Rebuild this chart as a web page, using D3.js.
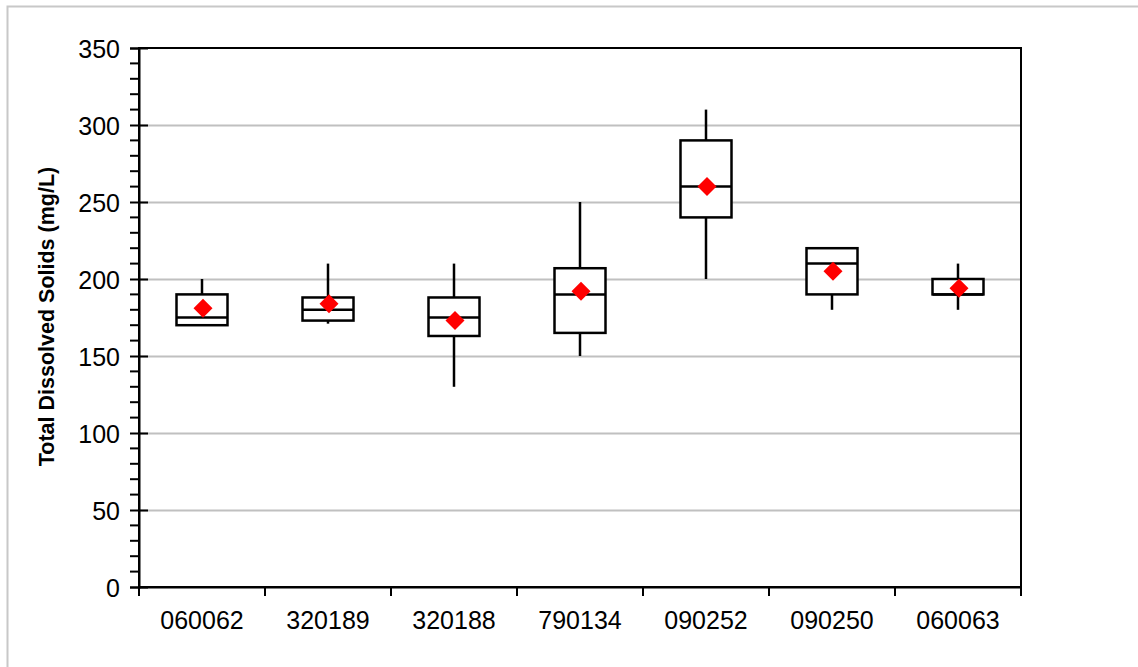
<!DOCTYPE html>
<html>
<head>
<meta charset="utf-8">
<script src="https://cdn.jsdelivr.net/npm/d3@7"></script>
<style>
  html, body { margin: 0; padding: 0; background: #fff; }
  svg { display: block; }
  text { font-family: "Liberation Sans", Arial, sans-serif; fill: #000; }
</style>
</head>
<body>
<svg id="chart" width="1138" height="667"></svg>
<script>
// ---- data ----
const categories = ["060062", "320189", "320188", "790134", "090252", "090250", "060063"];
const whiskerLow = [170, 171, 130, 150, 200, 180, 180];
const q1         = [170, 173, 163, 165, 240, 190, 190];
const median     = [175, 180, 175, 190, 260, 210, 190];
const q3         = [190, 188, 188, 207, 290, 220, 200];
const whiskerHigh= [200, 210, 210, 250, 310, 220, 210];
const means      = [181, 184, 173, 192, 260, 205, 194];
const yTicks     = [0, 50, 100, 150, 200, 250, 300, 350];
const yLabel     = "Total Dissolved Solids (mg/L)";

const rows = categories.map((c, i) => ({
  cat: c, lo: whiskerLow[i], q1: q1[i], med: median[i], q3: q3[i], hi: whiskerHigh[i], mean: means[i]
}));

const svg = d3.select("#chart");
const W = 1138, H = 667;
const m = { left: 139, right: 1021, top: 48, bottom: 587 };

// outer frame
svg.append("rect").attr("x", 7.5).attr("y", 6.5).attr("width", W + 10).attr("height", H + 10)
  .attr("fill", "#fff").attr("stroke", "#c8c8c8").attr("stroke-width", 2);

const x = d3.scaleBand().domain(categories).range([m.left, m.right]).paddingInner(0).paddingOuter(0);
const y = d3.scaleLinear().domain([0, 350]).range([m.bottom, m.top]);

// gridlines
svg.append("g").selectAll("line").data(yTicks.filter(t => t > 0 && t < 350)).join("line")
  .attr("x1", m.left).attr("x2", m.right)
  .attr("y1", d => Math.round(y(d)) + 0.5).attr("y2", d => Math.round(y(d)) + 0.5)
  .attr("stroke", "#c0c0c0").attr("stroke-width", 2);

// plot frame
svg.append("rect").attr("x", m.left).attr("y", m.top)
  .attr("width", m.right - m.left).attr("height", m.bottom - m.top)
  .attr("fill", "none").attr("stroke", "#000").attr("stroke-width", 2);

// minor ticks
const minor = d3.range(0, 351, 10).filter(v => v % 50 !== 0);
svg.append("g").selectAll("line").data(minor).join("line")
  .attr("x1", m.left - 9).attr("x2", m.left)
  .attr("y1", d => y(d)).attr("y2", d => y(d))
  .attr("stroke", "#000").attr("stroke-width", 2);

// y axis
const yAxis = d3.axisLeft(y).tickValues(yTicks).tickSize(9).tickPadding(8).tickFormat(d3.format("d"));
const gy = svg.append("g").attr("transform", `translate(${m.left},0)`).call(yAxis);
gy.select(".domain").attr("stroke", "#000").attr("stroke-width", 2);
gy.selectAll(".tick line").attr("stroke", "#000").attr("stroke-width", 2).attr("x2", -9);
gy.selectAll(".tick").append("line").attr("x1", 0).attr("x2", 9).attr("stroke", "#000").attr("stroke-width", 2);
gy.selectAll(".tick text").style("font-size", "25px").attr("font-family", null).attr("x", -19).attr("dy", "0.36em");

// x axis
const xAxis = d3.axisBottom(x).tickSize(0).tickPadding(24);
const gx = svg.append("g").attr("transform", `translate(0,${m.bottom})`).call(xAxis);
gx.select(".domain").attr("stroke", "#000").attr("stroke-width", 2);
gx.selectAll(".tick text").style("font-size", "25px").attr("font-family", null);
// category boundary ticks
const bounds = categories.map(c => x(c)).concat([m.right]);
gx.append("g").selectAll("line").data(bounds).join("line")
  .attr("x1", d => d).attr("x2", d => d).attr("y1", 0).attr("y2", 9)
  .attr("stroke", "#000").attr("stroke-width", 2);

// y label
svg.append("text")
  .attr("transform", `translate(54,${(m.top + m.bottom) / 2 - 1}) rotate(-90)`)
  .attr("text-anchor", "middle")
  .style("font-size", "21.5px").style("font-weight", "bold")
  .text(yLabel);

// boxes
const bw = 51;
const g = svg.append("g");
const box = g.selectAll("g.box").data(rows).join("g").attr("class", "box")
  .attr("transform", d => `translate(${x(d.cat) + x.bandwidth() / 2},0)`);

box.append("line").attr("x1", 0).attr("x2", 0)
  .attr("y1", d => y(d.hi)).attr("y2", d => y(d.q3))
  .attr("stroke", "#000").attr("stroke-width", 2.5);
box.append("line").attr("x1", 0).attr("x2", 0)
  .attr("y1", d => y(d.q1)).attr("y2", d => y(d.lo))
  .attr("stroke", "#000").attr("stroke-width", 2.5);
box.append("rect").attr("x", -bw / 2).attr("width", bw)
  .attr("y", d => y(d.q3)).attr("height", d => y(d.q1) - y(d.q3))
  .attr("fill", "#fff").attr("stroke", "#000").attr("stroke-width", 2.5);
box.append("line").attr("x1", -bw / 2).attr("x2", bw / 2)
  .attr("y1", d => y(d.med)).attr("y2", d => y(d.med))
  .attr("stroke", "#000").attr("stroke-width", 2.5);
const r = 9.5;
box.append("path")
  .attr("d", `M0,${-r}L${r},0L0,${r}L${-r},0Z`)
  .attr("transform", d => `translate(1,${y(d.mean)})`)
  .attr("fill", "#ff0000");
</script>
</body>
</html>
